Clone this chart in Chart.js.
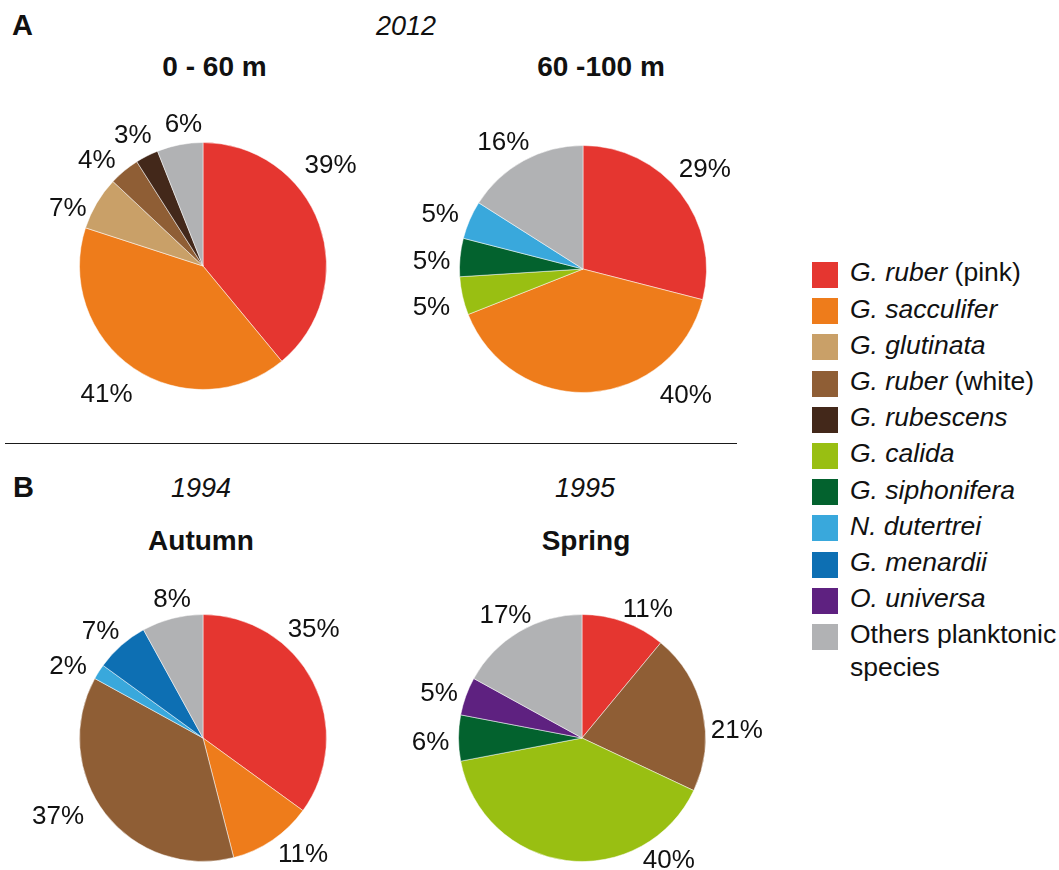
<!DOCTYPE html>
<html>
<head>
<meta charset="utf-8">
<script src="https://cdn.jsdelivr.net/npm/chart.js@4.4.1/dist/chart.umd.min.js"></script>
<style>
  body {
    margin: 0;
    width: 1059px;
    height: 870px;
    overflow: hidden;
    position: relative;
    background: #fff;
    color: #111;
    font-family: "Liberation Sans", Arial, sans-serif;
  }
  .txt { position: absolute; white-space: nowrap; line-height: 1; }
  canvas { position: absolute; }
  .rule { position: absolute; left: 5px; top: 443px; width: 732px; height: 1.3px; background: #1a1a1a; }
  .swatch { position: absolute; left: 812px; width: 26px; height: 26px; }
  .legtxt { position: absolute; left: 850px; width: 215px; font-size: 26.5px; line-height: 33px; }
</style>
</head>
<body>
<div class="rule"></div>
<canvas id="pieShallow" width="400" height="320"></canvas>
<canvas id="pieDeep" width="400" height="320"></canvas>
<canvas id="pieAutumn" width="400" height="320"></canvas>
<canvas id="pieSpring" width="400" height="320"></canvas>
<div id="legend"></div>

<script>
// legend (shared by all four pies)
const speciesLabels = [
  "G. ruber (pink)", "G. sacculifer", "G. glutinata", "G. ruber (white)", "G. rubescens",
  "G. calida", "G. siphonifera", "N. dutertrei", "G. menardii", "O. universa",
  "Others planktonic species"
];
const speciesColors = [
  "#e53630", "#ee7c1b", "#c9a068", "#8f5e35", "#43281a",
  "#99bf12", "#03622e", "#39a8dc", "#0d6fb3", "#5e2180",
  "#b1b2b4"
];

// A - 2012, 0-60 m
const shallowSpecies = ["G. ruber (pink)", "G. sacculifer", "G. glutinata", "G. ruber (white)", "G. rubescens", "Others planktonic species"];
const shallowValues = [39, 41, 7, 4, 3, 6];

// A - 2012, 60-100 m
const deepSpecies = ["G. ruber (pink)", "G. sacculifer", "G. calida", "G. siphonifera", "N. dutertrei", "Others planktonic species"];
const deepValues = [29, 40, 5, 5, 5, 16];

// B - 1994 autumn
const autumnSpecies = ["G. ruber (pink)", "G. sacculifer", "G. ruber (white)", "N. dutertrei", "G. menardii", "Others planktonic species"];
const autumnValues = [35, 11, 37, 2, 7, 8];

// B - 1995 spring
const springSpecies = ["G. ruber (pink)", "G. ruber (white)", "G. calida", "G. siphonifera", "O. universa", "Others planktonic species"];
const springValues = [11, 21, 40, 6, 5, 17];

// label tweaks so the % labels sit like in the original figure:
// angle shift in degrees, and extra distance from the rim in px
const shallowNudge = [-19, 3, -7, -5, -1, 3];
const shallowPad = [5, 4, -6, -1, 0, 0];
const deepNudge = [-2, -36, -1, -2, -2, -3];
const deepPad = [0, 5, 3, 0, 0, -3];
const autumnNudge = [-18, -7, 10, -4, -2, 2];
const autumnPad = [-1, -4, 4, 0, -3, -2];
const springNudge = [7, 9, -43, -1, -2, -1];
const springPad = [-6, -4, -7, 0, -3, -8];

const colorOf = {};
speciesLabels.forEach((s, i) => { colorOf[s] = speciesColors[i]; });

const FONT = "'Liberation Sans', Arial, sans-serif";

// percent labels outside each slice
const outsideLabels = {
  id: "outsideLabels",
  afterDatasetsDraw(chart, args, opts) {
    const ctx = chart.ctx;
    const meta = chart.getDatasetMeta(0);
    const values = chart.data.datasets[0].data;
    const nudges = opts.nudges || [];
    const pads = opts.pads || [];
    const size = 26;
    const h = size * 0.716;
    ctx.save();
    ctx.font = size + "px " + FONT;
    ctx.fillStyle = "#111";
    ctx.textAlign = "center";
    ctx.textBaseline = "alphabetic";
    meta.data.forEach((arc, i) => {
      const p = arc.getProps(["x", "y", "startAngle", "endAngle", "outerRadius"], true);
      const a = (p.startAngle + p.endAngle) / 2 + (nudges[i] || 0) * Math.PI / 180;
      const text = values[i] + "%";
      const w = ctx.measureText(text).width;
      const d = p.outerRadius + 9 + (pads[i] || 0) + Math.abs(Math.cos(a)) * w / 2 + Math.abs(Math.sin(a)) * h / 2;
      ctx.fillText(text, p.x + d * Math.cos(a), p.y + d * Math.sin(a) + h / 2);
    });
    ctx.restore();
  }
};

function drawPie(id, left, top, species, values, nudges, pads) {
  const canvas = document.getElementById(id);
  canvas.style.left = left + "px";
  canvas.style.top = top + "px";
  return new Chart(canvas, {
    type: "pie",
    data: {
      labels: species,
      datasets: [{
        data: values,
        backgroundColor: species.map(s => colorOf[s]),
        borderColor: "#ffffff",
        borderWidth: 0.5,
        radius: 123.5
      }]
    },
    options: {
      responsive: false,
      animation: false,
      layout: { padding: 0 },
      plugins: {
        legend: { display: false },
        tooltip: { enabled: false },
        outsideLabels: { nudges: nudges, pads: pads }
      }
    },
    plugins: [outsideLabels]
  });
}

drawPie("pieShallow", 3, 106, shallowSpecies, shallowValues, shallowNudge, shallowPad);
drawPie("pieDeep", 383, 109, deepSpecies, deepValues, deepNudge, deepPad);
drawPie("pieAutumn", 3, 578, autumnSpecies, autumnValues, autumnNudge, autumnPad);
drawPie("pieSpring", 382, 578, springSpecies, springValues, springNudge, springPad);

// headings
function addText(str, x, baseline, size, weight, style, align) {
  const el = document.createElement("div");
  el.className = "txt";
  el.textContent = str;
  el.style.fontSize = size + "px";
  el.style.fontWeight = weight;
  el.style.fontStyle = style;
  el.style.top = (baseline - 0.8465 * size) + "px";
  el.style.left = x + "px";
  if (align === "center") el.style.transform = "translateX(-50%)";
  document.body.appendChild(el);
}

addText("A", 12, 36, 29, "bold", "normal", "left");
addText("2012", 406, 36, 27, "normal", "italic", "center");
addText("0 - 60 m", 214.5, 77, 28, "bold", "normal", "center");
addText("60 -100 m", 601, 77, 28, "bold", "normal", "center");
addText("B", 13, 498, 29, "bold", "normal", "left");
addText("1994", 201, 498, 27, "normal", "italic", "center");
addText("1995", 585, 498, 27, "normal", "italic", "center");
addText("Autumn", 201, 551, 28, "bold", "normal", "center");
addText("Spring", 586, 551, 28, "bold", "normal", "center");

// legend
const legend = document.getElementById("legend");
speciesLabels.forEach((label, i) => {
  const rowTop = 262 + i * 36.2;
  const box = document.createElement("div");
  box.className = "swatch";
  box.style.top = rowTop + "px";
  box.style.background = speciesColors[i];
  legend.appendChild(box);

  const t = document.createElement("div");
  t.className = "legtxt";
  t.style.top = (rowTop + 20 - 25.7) + "px";
  const m = label.match(/^(\S+\. \S+)(.*)$/);
  if (m && !label.startsWith("Others")) {
    const it = document.createElement("i");
    it.textContent = m[1];
    t.appendChild(it);
    t.appendChild(document.createTextNode(m[2]));
  } else {
    t.textContent = label;
  }
  legend.appendChild(t);
});
</script>
</body>
</html>
